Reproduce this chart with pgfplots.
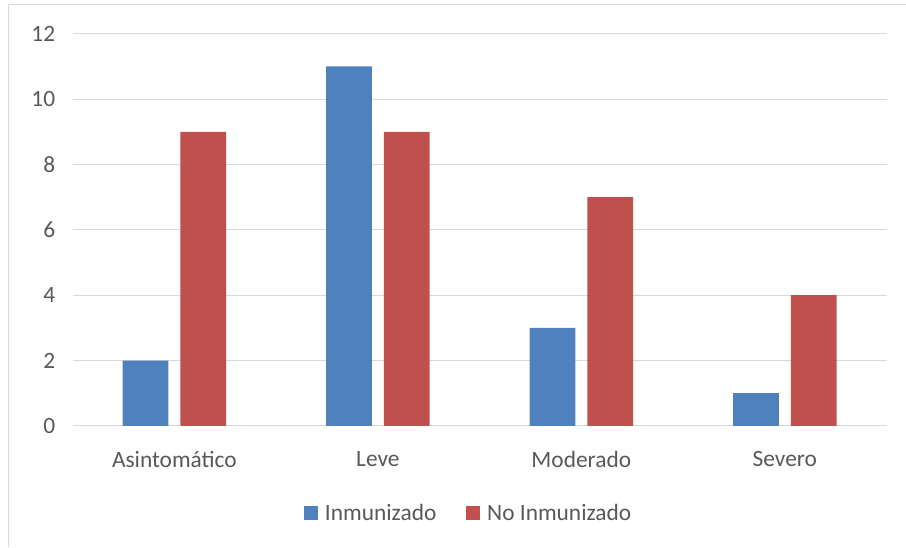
\documentclass[border=0pt]{standalone}
\usepackage{fontspec}
\setmainfont{Carlito}
\usepackage{pgfplots}
\pgfplotsset{compat=1.18}
\definecolor{cblue}{HTML}{4F81BD}
\definecolor{cred}{HTML}{C0504D}
\definecolor{ctext}{HTML}{595959}
\definecolor{cgrid}{HTML}{D9D9D9}
\begin{document}
\begin{tikzpicture}[x=1pt,y=1pt]
\path (0,0) rectangle (906,548);
\draw[cgrid, line width=1pt] (8.5,-2) -- (8.5,543.5) -- (910,543.5);
\begin{axis}[
  at={(73pt,120pt)}, anchor=south west,
  scale only axis, width=818pt, height=394pt,
  xmin=-0.5, xmax=3.5, ymin=0, ymax=12,
  ytick={0,2,...,12},
  xtick={0,1,2,3},
  xticklabels={Asintomático,Leve,Moderado,Severo},
  axis lines*=left,
  y axis line style={draw=none},
  x axis line style={cgrid, line width=1.2pt, -},
  ymajorgrids, grid style={cgrid, line width=1.2pt},
  major tick length=0pt,
  tick style={draw=none},
  /pgf/number format/assume math mode=true,
  ticklabel style={font=\fontsize{23.5}{28}\selectfont, text=ctext},
  xticklabel style={yshift=-22pt},
  yticklabel style={xshift=-14pt},
  ybar, bar width=46pt,
  legend style={at={(axis description cs:0.5,0)}, anchor=center, yshift=-88pt, xshift=-11pt,
    draw=none, legend columns=2, font=\fontsize{23.5}{28}\selectfont, text=ctext,
    /tikz/every even column/.append style={column sep=28pt}},
  legend image code/.code={\fill[#1] (0pt,-7pt) rectangle (14pt,7pt);},
  legend cell align=left,
  clip=false,
]
\addplot[fill=cblue, draw=none, bar shift=-29pt] coordinates {(0,2) (1,11) (2,3) (3,1)};
\addplot[fill=cred, draw=none, bar shift=29pt] coordinates {(0,9) (1,9) (2,7) (3,4)};
\legend{\hspace{5pt}Inmunizado, \hspace{5pt}No Inmunizado}
\end{axis}
\end{tikzpicture}
\end{document}
